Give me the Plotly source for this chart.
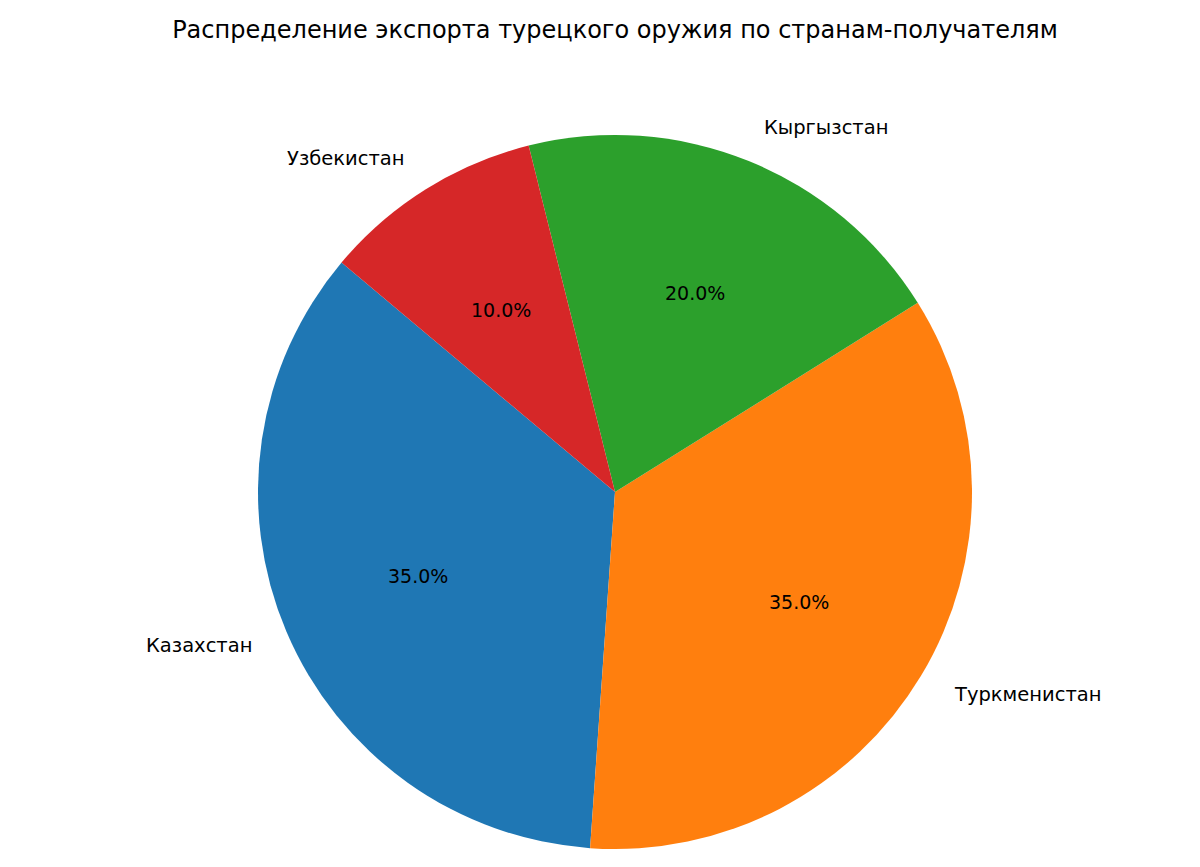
import math
import plotly.graph_objects as go

labels = ["Казахстан", "Туркменистан", "Кыргызстан", "Узбекистан"]
values = [35, 35, 20, 10]
colors = ["#1f77b4", "#ff7f0e", "#2ca02c", "#d62728"]
title = "Распределение экспорта турецкого оружия по странам-получателям"

W, H = 1200, 867
cx, cy, R = 615, 492, 357
start_angle = 140  # degrees, matplotlib-style, counterclockwise

total = sum(values)
first_span = 360 * values[0] / total

fig = go.Figure()
fig.add_trace(go.Pie(
    labels=labels, values=values, sort=False, direction="counterclockwise",
    rotation=90 - start_angle - first_span,
    marker=dict(colors=colors, line=dict(width=0)),
    textinfo="none", hoverinfo="label+percent",
    domain=dict(x=[(cx - R) / W, (cx + R) / W], y=[1 - (cy + R) / H, 1 - (cy - R) / H]),
    showlegend=False,
))

font = "DejaVu Sans, sans-serif"
ang = start_angle
annotations = []
for lab, v in zip(labels, values):
    span = 360 * v / total
    mid = math.radians(ang + span / 2)
    ang += span
    # outer label
    lx = cx + 1.1 * R * math.cos(mid)
    ly = cy - 1.1 * R * math.sin(mid)
    annotations.append(dict(
        x=lx / W, y=1 - ly / H, xref="paper", yref="paper", text=lab, showarrow=False,
        xanchor="left" if math.cos(mid) > 0 else "right", yanchor="middle",
        font=dict(family=font, size=19.5, color="#000000"),
    ))
    # percentage
    px = cx + 0.6 * R * math.cos(mid)
    py = cy - 0.6 * R * math.sin(mid)
    annotations.append(dict(
        x=px / W, y=1 - py / H, xref="paper", yref="paper", text=f"{100 * v / total:.1f}%",
        showarrow=False, xanchor="center", yanchor="middle",
        font=dict(family=font, size=19, color="#000000"),
    ))

fig.update_layout(
    width=W, height=H, margin=dict(l=0, r=0, t=0, b=0),
    paper_bgcolor="white", plot_bgcolor="white",
    title=dict(text=title, x=cx / W, xanchor="center", y=1 - 30 / H, yanchor="middle",
               font=dict(family=font, size=24, color="#000000")),
    annotations=annotations,
)
fig.write_html("out.html")
